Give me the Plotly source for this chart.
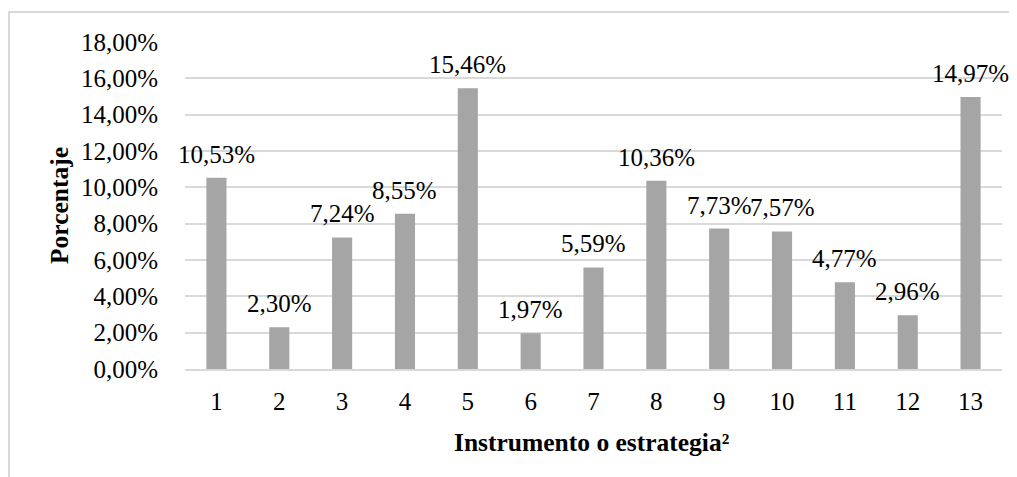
import plotly.graph_objects as go

categories = [1, 2, 3, 4, 5, 6, 7, 8, 9, 10, 11, 12, 13]
values = [10.53, 2.30, 7.24, 8.55, 15.46, 1.97, 5.59, 10.36, 7.73, 7.57, 4.77, 2.96, 14.97]
labels = [f"{v:.2f}".replace(".", ",") + "%" for v in values]
y_ticks = [0, 2, 4, 6, 8, 10, 12, 14, 16, 18]
y_ticktext = [f"{t:.2f}".replace(".", ",") + "%" for t in y_ticks]

FONT = "Liberation Serif, Times New Roman, serif"
FS = 25
TFS = 25.5

# page body has an 8px margin, so figure coords = screen coords - 8
OFF = 8
W, H = 1017 - OFF, 477 - OFF
L, T = 185 - OFF, 42 - OFF
R = W - (1002 - OFF)
B = H - (369 - OFF)
pw, ph = W - L - R, H - T - B

def px(x):
    return (x - OFF - L) / pw

def py(y):
    return (H - B - (y - OFF)) / ph

fig = go.Figure(go.Bar(
    x=categories, y=values,
    marker=dict(color="#a5a5a5", line=dict(width=0)),
    width=0.32,
))

annotations = [
    dict(x=c, y=v, xref="x", yref="y", text=t, showarrow=False,
         yanchor="bottom", yshift=8, font=dict(family=FONT, size=FS, color="#000"))
    for c, v, t in zip(categories, values, labels)
]
annotations.append(dict(x=px(60), y=py(206), xref="paper", yref="paper",
                        text="<b>Porcentaje</b>", textangle=-90, showarrow=False,
                        xanchor="center", yanchor="middle",
                        font=dict(family=FONT, size=TFS, color="#000")))
annotations.append(dict(x=px(592), y=py(442), xref="paper", yref="paper",
                        text="<b>Instrumento o estrategia²</b>", showarrow=False,
                        xanchor="center", yanchor="middle",
                        font=dict(family=FONT, size=TFS, color="#000")))

fig.update_layout(
    width=W, height=H,
    margin=dict(l=L, r=R, t=T, b=B, pad=0),
    paper_bgcolor="white", plot_bgcolor="white",
    font=dict(family=FONT, size=FS, color="#000000"),
    showlegend=False,
    xaxis=dict(
        range=[0.5, 13.5], tickvals=categories, ticktext=[str(c) for c in categories],
        showgrid=False, showline=True, linecolor="#d9d9d9", linewidth=2, zeroline=False,
        ticks="", ticklabelstandoff=9, tickfont=dict(size=FS),
    ),
    yaxis=dict(
        range=[0, 18], tickvals=y_ticks, ticktext=y_ticktext,
        showgrid=True, gridcolor="#d9d9d9", gridwidth=2, zeroline=False,
        ticks="", ticklabelstandoff=26, tickfont=dict(size=FS),
    ),
    annotations=annotations,
    shapes=[dict(
        type="rect", xref="paper", yref="paper",
        x0=px(9), x1=px(1030), y0=py(500), y1=py(12),
        line=dict(color="#d9d9d9", width=2), fillcolor="rgba(0,0,0,0)", layer="below",
    )],
)

fig.write_html("out.html")
